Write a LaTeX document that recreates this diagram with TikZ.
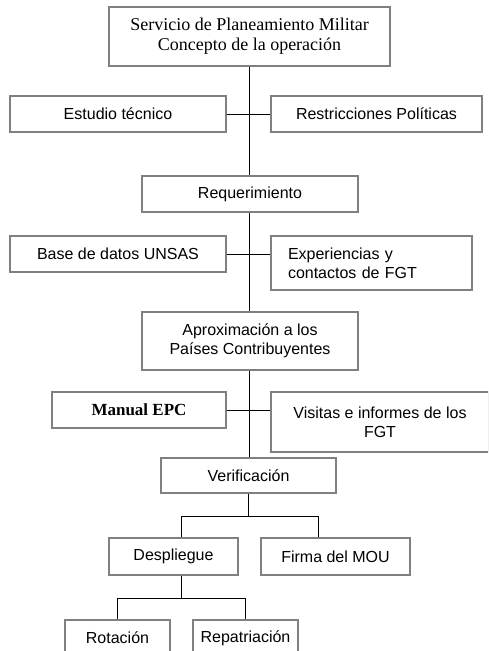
\documentclass[tikz,border=0pt]{standalone}
\usepackage{fontspec}
\setmainfont{Liberation Sans}
\newfontfamily\timesfam{Liberation Serif}
\usetikzlibrary{positioning}

\begin{document}
\begin{tikzpicture}[x=1pt, y=-1pt,
  caja/.style={draw=black!50, line width=1.1pt, rectangle, inner sep=0pt, align=center, font=\fontsize{16}{19}\selectfont},
  linea/.style={draw=black, line width=1pt}]
\useasboundingbox (0,0) rectangle (488,651);
\clip (0,0) rectangle (488,651);
\node[caja, minimum width=281, minimum height=59, font={\timesfam\fontsize{18}{20}\selectfont}] (spm) at (249.5,36.5) {Servicio de Planeamiento Militar\\Concepto de la operación};
\node[caja, minimum width=216, minimum height=36] (estudio) at (118,114) {Estudio técnico};
\node[caja, minimum width=211, minimum height=36] (restric) at (376.5,114) {Restricciones Políticas};
\node[caja, minimum width=216, minimum height=36] (requer) at (250,194) {Requerimiento};
\node[caja, minimum width=216, minimum height=36] (base) at (118,254) {Base de datos UNSAS};
\node[caja, minimum width=201, minimum height=54, text width=167, align=left, inner xsep=17] (exper) at (371.5,263) {Experiencias y\\contactos de FGT};
\node[caja, minimum width=216, minimum height=58] (aprox) at (250,341) {Aproximación a los\\Países Contribuyentes};
\node[caja, minimum width=174, minimum height=36, font={\timesfam\bfseries\fontsize{17}{19}\selectfont}] (manual) at (139,410) {Manual EPC};
\node[caja, minimum width=218, minimum height=60] (visitas) at (380,422) {Visitas e informes de los\\FGT};
\node[caja, minimum width=175, minimum height=35] (verif) at (248.5,475.5) {Verificación};
\node[caja, minimum width=129, minimum height=37] (despl) at (173.5,556.5) {Despliegue};
\node[caja, minimum width=149, minimum height=37] (firma) at (335.5,556.5) {Firma del MOU};
\node[caja, minimum width=105, minimum height=36] (rotac) at (117.5,638) {Rotación};
\node[caja, minimum width=105, minimum height=36] (repat) at (245.5,638) {Repatriación};
\draw[linea] (spm.south) -- (spm.south |- requer.north);
\draw[linea] (spm.south |- requer.south) -- (spm.south |- aprox.north);
\draw[linea] (spm.south |- aprox.south) -- (spm.south |- verif.north);
\draw[linea] (estudio.east) -- (restric.west);
\draw[linea] (base.east) -- (base.east -| exper.west);
\draw[linea] (manual.east) -- (manual.east -| visitas.west);
\draw[linea] (verif.south) -- ++(0,23) coordinate (jv) -| ([xshift=8]despl.north);
\draw[linea] (jv) -| ([xshift=-17]firma.north);
\draw[linea] ([xshift=8]despl.south) -- ++(0,23) coordinate (jd) -| (rotac.north);
\draw[linea] (jd) -| (repat.north);
\end{tikzpicture}
\end{document}
